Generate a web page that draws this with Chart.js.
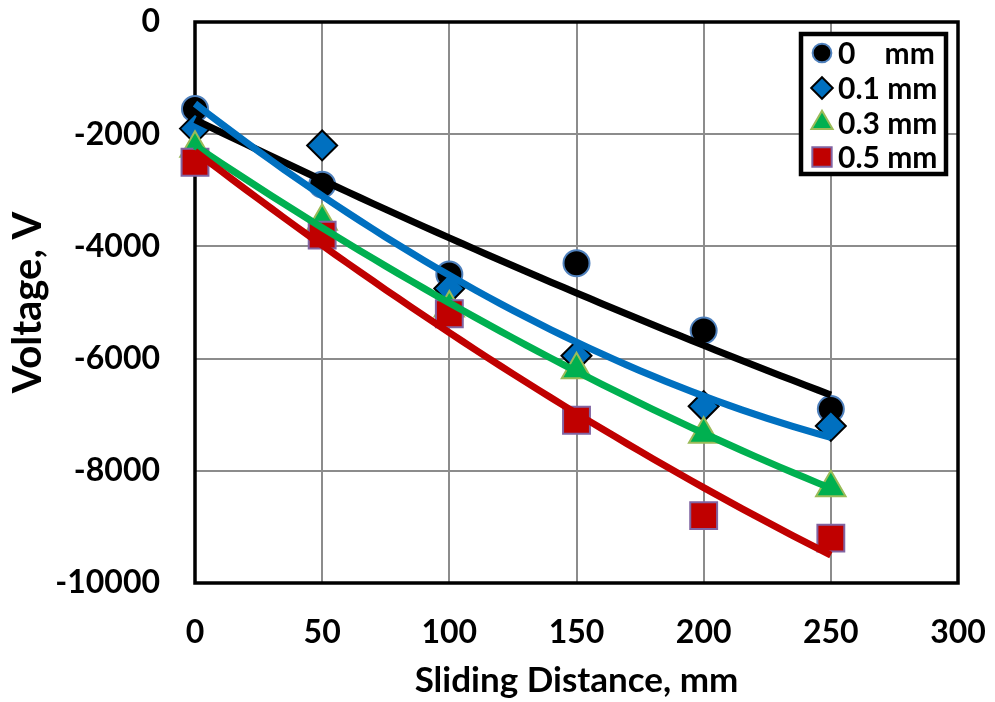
<!DOCTYPE html>
<html>
<head>
<meta charset="utf-8">
<script src="https://cdn.jsdelivr.net/npm/chart.js@4/dist/chart.umd.min.js"></script>
<style>
  html, body { margin: 0; padding: 0; background: #fff; }
  #wrap { width: 995px; height: 702px; }
</style>
</head>
<body>
<div id="wrap"><canvas id="myChart" width="995" height="702"></canvas></div>
<script>
// data
const distance = [0, 50, 100, 150, 200, 250];
const v0mm = [-1550, -2900, -4500, -4300, -5500, -6900];
const v01mm = [-1900, -2200, -4750, -5950, -6850, -7200];
const v03mm = [-2250, -3550, -5100, -6200, -7350, -8300];
const v05mm = [-2500, -3800, -5200, -7100, -8800, -9200];

const seriesLabels = ['0    mm', '0.1 mm', '0.3 mm', '0.5 mm'];
const xTicks = [0, 50, 100, 150, 200, 250, 300];
const yTicks = [0, -2000, -4000, -6000, -8000, -10000];

const FONT = 'Lato, "Open Sans", sans-serif';

// 2nd order polynomial trendline (least squares), like the spreadsheet one
function polyFit2(xs, ys) {
  let s0 = xs.length, s1 = 0, s2 = 0, s3 = 0, s4 = 0, t0 = 0, t1 = 0, t2 = 0;
  for (let i = 0; i < xs.length; i++) {
    const x = xs[i], y = ys[i];
    s1 += x; s2 += x * x; s3 += x * x * x; s4 += x * x * x * x;
    t0 += y; t1 += x * y; t2 += x * x * y;
  }
  const det3 = m => m[0][0] * (m[1][1] * m[2][2] - m[1][2] * m[2][1])
    - m[0][1] * (m[1][0] * m[2][2] - m[1][2] * m[2][0])
    + m[0][2] * (m[1][0] * m[2][1] - m[1][1] * m[2][0]);
  const A = [[s0, s1, s2], [s1, s2, s3], [s2, s3, s4]];
  const B = [t0, t1, t2];
  const D = det3(A);
  const coef = [0, 1, 2].map(k => det3(A.map((row, r) => row.map((v, c) => c === k ? B[r] : v))) / D);
  return x => coef[0] + coef[1] * x + coef[2] * x * x;
}

function trendPoints(ys) {
  const f = polyFit2(distance, ys);
  const pts = [];
  const x0 = distance[0], x1 = distance[distance.length - 1];
  for (let x = x0; x <= x1; x += 5) pts.push({ x: x, y: f(x) });
  return pts;
}

function scatterPoints(ys) {
  return distance.map((x, i) => ({ x: x, y: ys[i] }));
}

const marks = [
  { data: v0mm, style: 'circle', radius: 13, fill: '#000000', edge: '#4F81BD', line: '#000000' },
  { data: v01mm, style: 'rectRot', radius: 15, fill: '#0070C0', edge: '#000000', line: '#0070C0' },
  { data: v03mm, style: 'triangle', radius: 17, fill: '#00B050', edge: '#9BBB59', line: '#00B050' },
  { data: v05mm, style: 'rect', radius: 19, fill: '#C00000', edge: '#8064A2', line: '#C00000' }
];

const datasets = [];
marks.forEach((m, i) => {
  datasets.push({
    type: 'scatter',
    label: seriesLabels[i],
    data: scatterPoints(m.data),
    pointStyle: m.style,
    pointRadius: m.radius,
    pointHoverRadius: m.radius,
    backgroundColor: m.fill,
    borderColor: m.edge,
    pointBorderWidth: 2,
    showLine: false,
    clip: false,
    order: 8 - i
  });
});
marks.forEach((m, i) => {
  datasets.push({
    type: 'line',
    label: seriesLabels[i] + ' trend',
    data: trendPoints(m.data),
    borderColor: m.line,
    borderWidth: 7,
    pointRadius: 0,
    tension: 0,
    fill: false,
    clip: false,
    order: 4 - i
  });
});

// frame round the plot area
const framePlugin = {
  id: 'frame',
  beforeDatasetsDraw(chart) {
    const a = chart.chartArea, ctx = chart.ctx;
    ctx.save();
    ctx.strokeStyle = '#000';
    ctx.lineWidth = 3.5;
    ctx.strokeRect(a.left, a.top, a.right - a.left, a.bottom - a.top);
    ctx.restore();
  }
};

// legend box in the top right corner
const boxLegend = {
  id: 'boxLegend',
  afterDatasetsDraw(chart) {
    const ctx = chart.ctx;
    const bx = 801, by = 34, bw = 145, bh = 140;
    ctx.save();
    ctx.fillStyle = '#fff';
    ctx.fillRect(bx, by, bw, bh);
    ctx.strokeStyle = '#000';
    ctx.lineWidth = 4.5;
    ctx.strokeRect(bx, by, bw, bh);
    ctx.font = 'bold 30px ' + FONT;
    ctx.textBaseline = 'middle';
    ctx.textAlign = 'left';
    const rowY = [53, 88, 123, 157];
    marks.forEach((m, i) => {
      const opts = {
        pointStyle: m.style,
        radius: m.radius * 0.72,
        rotation: 0,
        borderWidth: 2
      };
      ctx.fillStyle = m.fill;
      ctx.strokeStyle = m.edge;
      ctx.lineWidth = 2;
      Chart.helpers.drawPoint(ctx, opts, 822, rowY[i]);
      ctx.fillStyle = '#000';
      ctx.fillText(seriesLabels[i], 838, rowY[i] + 1);
    });
    ctx.restore();
  }
};

// keep the plot area where the reference has it
function noPad(scale) {
  scale.paddingTop = 0;
  scale.paddingBottom = 0;
  scale.paddingLeft = 0;
  scale.paddingRight = 0;
}

const config = {
  type: 'scatter',
  data: { datasets: datasets },
  options: {
    responsive: false,
    animation: false,
    events: [],
    layout: { padding: { top: 22, right: 37, left: 0, bottom: 0 } },
    plugins: {
      legend: { display: false },
      tooltip: { enabled: false }
    },
    scales: {
      x: {
        type: 'linear',
        min: 0,
        max: 300,
        afterFit(scale) { scale.height = 119; noPad(scale); },
        afterBuildTicks(scale) { scale.ticks = xTicks.map(v => ({ value: v })); },
        grid: { color: '#8C8C8C', lineWidth: 2, drawTicks: false },
        border: { display: false },
        ticks: {
          padding: 30,
          color: '#000',
          callback: v => String(v),
          font: { family: FONT, size: 32, weight: 'bold' }
        },
        title: {
          display: true,
          text: 'Sliding Distance, mm',
          color: '#000',
          padding: 0,
          font: { family: FONT, size: 35, weight: 'bold' }
        }
      },
      y: {
        type: 'linear',
        min: -10000,
        max: 0,
        afterFit(scale) { scale.width = 195; noPad(scale); },
        afterBuildTicks(scale) { scale.ticks = yTicks.map(v => ({ value: v })); },
        grid: { color: '#8C8C8C', lineWidth: 2, drawTicks: false },
        border: { display: false },
        ticks: {
          padding: 35,
          color: '#000',
          callback: v => String(v),
          font: { family: FONT, size: 32, weight: 'bold' }
        },
        title: {
          display: true,
          text: 'Voltage, V',
          color: '#000',
          padding: { top: 4, bottom: 0 },
          font: { family: FONT, size: 40, weight: 'bold' }
        }
      }
    }
  },
  plugins: [framePlugin, boxLegend]
};

const myChart = new Chart(document.getElementById('myChart'), config);
</script>
</body>
</html>
